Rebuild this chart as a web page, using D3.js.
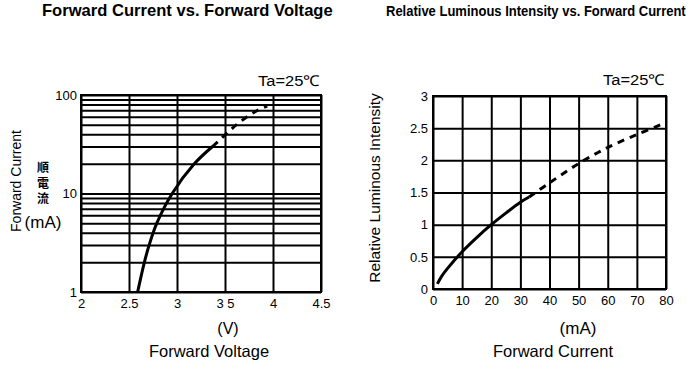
<!DOCTYPE html>
<html>
<head>
<meta charset="utf-8">
<script src="https://cdn.jsdelivr.net/npm/d3@7"></script>
<style>
  body { margin: 0; background: #fff; }
  text { font-family: "Liberation Sans", Arial, sans-serif; fill: #000; }
</style>
</head>
<body>
<svg id="chart" width="693" height="371"></svg>
<script>
// forward current vs forward voltage (log y)
const fvCurrent = [1, 2, 3, 5, 10, 20, 30, 40, 50, 60, 70, 77];
const fvVoltage = [2.59, 2.66, 2.71, 2.79, 2.95, 3.18, 3.37, 3.51, 3.62, 3.73, 3.84, 3.94];
const fvSolidEnd = 6; // solid up to 30 mA, dashed after

// relative luminous intensity vs forward current
const lumCurrent = [1.5, 3, 5, 10, 15, 20, 25, 30, 33, 40, 50, 60, 70, 78];
const lumIntensity = [0.08, 0.2, 0.32, 0.58, 0.8, 1.0, 1.18, 1.35, 1.43, 1.65, 1.95, 2.2, 2.4, 2.55];
const lumSolidEnd = 8;

const voltTicks = [2, 2.5, 3, 3.5, 4, 4.5];
const currTicks = [0, 10, 20, 30, 40, 50, 60, 70, 80];
const lumTicks = [0, 0.5, 1, 1.5, 2, 2.5, 3];

const svg = d3.select('#chart');

function styleGrid (g) {
    g.select('.domain').remove();
    g.selectAll('.tick line').attr('stroke', '#000').attr('stroke-width', 2);
    g.selectAll('.tick text').attr('font-size', 13).attr('fill', '#000')
        .attr('font-family', '"Liberation Sans", Arial, sans-serif');
}

function drawCurve (g, xs, ys, x, y, solidEnd) {
    const pts = xs.map((v, i) => [x(v), y(ys[i])]);
    const line = d3.line().curve(d3.curveCatmullRom.alpha(0.5));
    g.append('path')
        .attr('d', line(pts.slice(0, solidEnd + 1)))
        .attr('fill', 'none').attr('stroke', '#000').attr('stroke-width', 3);
    g.append('path')
        .attr('d', line(pts.slice(solidEnd)))
        .attr('fill', 'none').attr('stroke', '#000').attr('stroke-width', 3)
        .attr('stroke-dasharray', '7,6');
}

// squeeze / stretch a text to a given width with a real transform
function fitText (g, x, y, size, weight, width, str) {
    const t = g.append('text').attr('font-size', size).attr('font-weight', weight).text(str);
    const w = t.node().getComputedTextLength();
    t.attr('transform', `translate(${x},${y}) scale(${width / w},1)`);
    return t;
}

// ---- left chart ----
{
    const L = 81, R = 321, T = 95, B = 292;
    const x = d3.scaleLinear().domain([2, 4.5]).range([L, R]);
    const y = d3.scaleLog().domain([1, 100]).range([B, T]);
    const g = svg.append('g');

    g.append('g').attr('transform', `translate(0,${B})`)
        .call(d3.axisBottom(x).tickValues(voltTicks).tickSize(-(B - T)).tickPadding(7)
            .tickFormat(d => d === 3.5 ? '3 5' : d))
        .call(styleGrid);
    g.append('g').attr('transform', `translate(${L},0)`)
        .call(d3.axisLeft(y).tickValues(y.ticks()).tickSize(-(R - L)).tickPadding(4)
            .tickFormat(d => [1, 10, 100].includes(d) ? d : ''))
        .call(styleGrid);
    g.append('rect').attr('x', L).attr('y', T).attr('width', R - L).attr('height', B - T)
        .attr('fill', 'none').attr('stroke', '#000').attr('stroke-width', 2);

    drawCurve(g, fvVoltage, fvCurrent, x, y, fvSolidEnd);

    fitText(g, 42, 16, 16, 'bold', 291, 'Forward Current vs. Forward Voltage');
    fitText(g, 258, 86, 15, 'normal', 62, 'Ta=25℃');
    g.append('text').attr('transform', 'translate(21,181) rotate(-90)').attr('font-size', 14)
        .attr('text-anchor', 'middle').text('Forward Current');
    ['順', '電', '流'].forEach((c, i) => {
        g.append('text').attr('x', 43).attr('y', 172 + i * 15.5).attr('font-size', 12)
            .attr('font-weight', 'bold').attr('text-anchor', 'middle')
            .style('font-family', '"Noto Sans CJK TC", sans-serif').text(c);
    });
    g.append('text').attr('x', 43).attr('y', 228).attr('font-size', 17)
        .attr('text-anchor', 'middle').text('(mA)');
    g.append('text').attr('x', 228).attr('y', 334).attr('font-size', 16)
        .attr('text-anchor', 'middle').text('(V)');
    g.append('text').attr('x', 209).attr('y', 357).attr('font-size', 16.5)
        .attr('text-anchor', 'middle').text('Forward Voltage');
}

// ---- right chart ----
{
    const L = 433, R = 666, T = 96, B = 289;
    const x = d3.scaleLinear().domain([0, 80]).range([L, R]);
    const y = d3.scaleLinear().domain([0, 3]).range([B, T]);
    const g = svg.append('g');

    g.append('g').attr('transform', `translate(0,${B})`)
        .call(d3.axisBottom(x).tickValues(currTicks).tickSize(-(B - T)).tickPadding(7))
        .call(styleGrid);
    g.append('g').attr('transform', `translate(${L},0)`)
        .call(d3.axisLeft(y).tickValues(lumTicks).tickSize(-(R - L)).tickPadding(5)
            .tickFormat(d => d))
        .call(styleGrid);
    g.append('rect').attr('x', L).attr('y', T).attr('width', R - L).attr('height', B - T)
        .attr('fill', 'none').attr('stroke', '#000').attr('stroke-width', 2);

    drawCurve(g, lumCurrent, lumIntensity, x, y, lumSolidEnd);

    fitText(g, 386, 16, 14, 'bold', 300, 'Relative Luminous Intensity vs. Forward Current');
    fitText(g, 603, 85, 15, 'normal', 62, 'Ta=25℃');
    g.append('text').attr('transform', 'translate(380,188) rotate(-90)').attr('font-size', 15.5)
        .attr('text-anchor', 'middle').text('Relative Luminous Intensity');
    g.append('text').attr('x', 578).attr('y', 334).attr('font-size', 17)
        .attr('text-anchor', 'middle').text('(mA)');
    g.append('text').attr('x', 553).attr('y', 357).attr('font-size', 16.5)
        .attr('text-anchor', 'middle').text('Forward Current');
}
</script>
</body>
</html>
